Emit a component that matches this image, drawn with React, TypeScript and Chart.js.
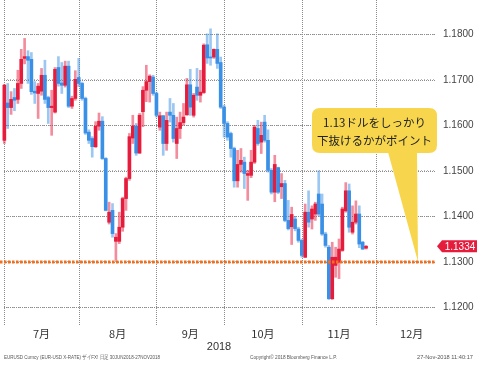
import React, { useEffect, useRef } from 'react';
import { Chart, registerables } from 'chart.js';

Chart.register(...registerables);

// Trading days (EUR/USD daily candles)
const dates = [
  '6/29',
  '7/2', '7/3', '7/4', '7/5', '7/6', '7/9', '7/10', '7/11', '7/12', '7/13', '7/16', '7/17', '7/18', '7/19', '7/20', '7/23', '7/24', '7/25', '7/26', '7/27', '7/30', '7/31',
  '8/1', '8/2', '8/3', '8/6', '8/7', '8/8', '8/9', '8/10', '8/13', '8/14', '8/15', '8/16', '8/17', '8/20', '8/21', '8/22', '8/23', '8/24', '8/27', '8/28', '8/29', '8/30', '8/31',
  '9/3', '9/4', '9/5', '9/6', '9/7', '9/10', '9/11', '9/12', '9/13', '9/14', '9/17', '9/18', '9/19', '9/20', '9/21', '9/24', '9/25', '9/26', '9/27', '9/28',
  '10/1', '10/2', '10/3', '10/4', '10/5', '10/8', '10/9', '10/10', '10/11', '10/12', '10/15', '10/16', '10/17', '10/18', '10/19', '10/22', '10/23', '10/24', '10/25', '10/26', '10/29', '10/30', '10/31',
  '11/1', '11/2', '11/5', '11/6', '11/7', '11/8', '11/9', '11/12', '11/13', '11/14', '11/15', '11/16', '11/19', '11/20', '11/21', '11/22', '11/23', '11/26', '11/27',
];

const openP = [
  1.1567,
  1.1649, 1.1639, 1.1661, 1.1657, 1.1692, 1.1747, 1.1751, 1.1745, 1.1675, 1.1670, 1.1675, 1.1710, 1.1661, 1.1639, 1.1629, 1.1727, 1.1693, 1.1688, 1.1730, 1.1642, 1.1659, 1.1705,
  1.1692, 1.1659, 1.1585, 1.1571, 1.1553, 1.1598, 1.1609, 1.1527, 1.1387, 1.1413, 1.1345, 1.1345, 1.1376, 1.1439, 1.1483, 1.1572, 1.1598, 1.1539, 1.1630, 1.1677, 1.1696, 1.1706, 1.1670,
  1.1596, 1.1621, 1.1560, 1.1629, 1.1622, 1.1560, 1.1593, 1.1606, 1.1623, 1.1689, 1.1622, 1.1684, 1.1666, 1.1672, 1.1777, 1.1750, 1.1750, 1.1767, 1.1738, 1.1640,
  1.1604, 1.1582, 1.1549, 1.1478, 1.1514, 1.1519, 1.1490, 1.1490, 1.1519, 1.1593, 1.1563, 1.1607, 1.1567, 1.1501, 1.1453, 1.1507, 1.1465, 1.1472, 1.1391, 1.1377, 1.1394, 1.1372, 1.1347,
  1.1310, 1.1409, 1.1394, 1.1405, 1.1449, 1.1427, 1.1361, 1.1332, 1.1219, 1.1292, 1.1299, 1.1325, 1.1412, 1.1456, 1.1365, 1.1387, 1.1405, 1.1343, 1.1330,
];
const highP = [
  1.1690,
  1.1692, 1.1674, 1.1681, 1.1721, 1.1767, 1.1791, 1.1764, 1.1760, 1.1696, 1.1692, 1.1725, 1.1743, 1.1664, 1.1677, 1.1727, 1.1751, 1.1738, 1.1741, 1.1741, 1.1664, 1.1720, 1.1747,
  1.1695, 1.1662, 1.1590, 1.1575, 1.1608, 1.1627, 1.1619, 1.1529, 1.1431, 1.1428, 1.1362, 1.1409, 1.1442, 1.1486, 1.1582, 1.1622, 1.1604, 1.1626, 1.1685, 1.1732, 1.1711, 1.1710, 1.1673,
  1.1629, 1.1622, 1.1629, 1.1659, 1.1648, 1.1618, 1.1629, 1.1648, 1.1703, 1.1723, 1.1670, 1.1725, 1.1721, 1.1779, 1.1801, 1.1812, 1.1768, 1.1801, 1.1750, 1.1644,
  1.1608, 1.1585, 1.1552, 1.1545, 1.1549, 1.1530, 1.1501, 1.1545, 1.1600, 1.1611, 1.1607, 1.1622, 1.1590, 1.1505, 1.1534, 1.1508, 1.1494, 1.1479, 1.1435, 1.1420, 1.1400, 1.1376, 1.1350,
  1.1427, 1.1456, 1.1423, 1.1431, 1.1500, 1.1449, 1.1365, 1.1336, 1.1343, 1.1332, 1.1350, 1.1420, 1.1474, 1.1471, 1.1423, 1.1434, 1.1423, 1.1345, 1.1336,
];
const lowP = [
  1.1560,
  1.1593, 1.1624, 1.1632, 1.1648, 1.1681, 1.1735, 1.1692, 1.1668, 1.1648, 1.1615, 1.1666, 1.1648, 1.1604, 1.1578, 1.1627, 1.1686, 1.1670, 1.1684, 1.1639, 1.1637, 1.1655, 1.1685,
  1.1655, 1.1580, 1.1560, 1.1530, 1.1551, 1.1589, 1.1525, 1.1412, 1.1383, 1.1354, 1.1303, 1.1340, 1.1367, 1.1413, 1.1479, 1.1560, 1.1534, 1.1538, 1.1597, 1.1652, 1.1651, 1.1666, 1.1618,
  1.1589, 1.1534, 1.1545, 1.1607, 1.1563, 1.1527, 1.1571, 1.1600, 1.1622, 1.1622, 1.1618, 1.1655, 1.1651, 1.1670, 1.1736, 1.1732, 1.1747, 1.1725, 1.1637, 1.1574,
  1.1567, 1.1530, 1.1464, 1.1464, 1.1497, 1.1461, 1.1435, 1.1485, 1.1516, 1.1556, 1.1538, 1.1563, 1.1497, 1.1449, 1.1432, 1.1450, 1.1439, 1.1388, 1.1370, 1.1338, 1.1368, 1.1343, 1.1310,
  1.1309, 1.1376, 1.1372, 1.1391, 1.1401, 1.1358, 1.1332, 1.1217, 1.1217, 1.1266, 1.1263, 1.1323, 1.1409, 1.1365, 1.1361, 1.1383, 1.1331, 1.1327, 1.1328,
];
const closeP = [
  1.1688,
  1.1639, 1.1657, 1.1655, 1.1692, 1.1745, 1.1751, 1.1743, 1.1674, 1.1671, 1.1686, 1.1710, 1.1657, 1.1639, 1.1642, 1.1723, 1.1692, 1.1688, 1.1730, 1.1642, 1.1659, 1.1701, 1.1692,
  1.1659, 1.1583, 1.1567, 1.1553, 1.1598, 1.1609, 1.1527, 1.1413, 1.1409, 1.1362, 1.1354, 1.1376, 1.1439, 1.1483, 1.1575, 1.1598, 1.1539, 1.1622, 1.1677, 1.1696, 1.1708, 1.1670, 1.1622,
  1.1621, 1.1560, 1.1611, 1.1622, 1.1571, 1.1593, 1.1606, 1.1618, 1.1689, 1.1640, 1.1666, 1.1666, 1.1673, 1.1776, 1.1748, 1.1748, 1.1767, 1.1736, 1.1640, 1.1604,
  1.1574, 1.1549, 1.1478, 1.1514, 1.1523, 1.1494, 1.1494, 1.1519, 1.1596, 1.1560, 1.1578, 1.1567, 1.1501, 1.1453, 1.1514, 1.1453, 1.1472, 1.1391, 1.1373, 1.1404, 1.1373, 1.1347, 1.1314,
  1.1409, 1.1387, 1.1416, 1.1427, 1.1405, 1.1361, 1.1336, 1.1219, 1.1310, 1.1310, 1.1328, 1.1416, 1.1456, 1.1376, 1.1387, 1.1405, 1.1339, 1.1328, 1.1334,
];

// Axis / annotation content
const monthGridIndex = [0, 22, 45, 65, 88, 110];
const monthLabelIndex = [11, 33.5, 55, 76.5, 99, 120.5];
const monthLabels = ['7月', '8月', '9月', '10月', '11月', '12月'];
const yTicks = [1.12, 1.13, 1.14, 1.15, 1.16, 1.17, 1.18];
const supportLevel = 1.13;
const calloutLines = ['1.13ドルをしっかり', '下抜けるかがポイント'];
const yearLabel = '2018';
const footerLeft = 'EURUSD Curncy (EUR-USD X-RATE) ザイFX! 日足 30JUN2018-27NOV2018';
const footerMid = 'Copyright© 2018 Bloomberg Finance L.P.';
const footerRight = '27-Nov-2018 11:40:17';

const UP = 'rgb(230, 28, 60)';
const UP_WICK = 'rgba(230, 28, 60, 0.5)';
const DOWN = 'rgb(58, 143, 230)';
const DOWN_WICK = 'rgba(58, 143, 230, 0.5)';
const GRID = '#8c8c8c';

const isUp = (k: number) => closeP[k] >= openP[k];

const gridPlugin = {
  id: 'dottedGrid',
  beforeDatasetsDraw(chart: any) {
    const { ctx, chartArea, scales } = chart;
    ctx.save();
    ctx.fillStyle = GRID;
    const left = Math.round(chartArea.left);
    const right = Math.round(chartArea.right);
    // dotted horizontal lines at the price ticks
    for (const v of yTicks) {
      const y = Math.round(scales.y.getPixelForValue(v));
      for (let x = left; x < right; x += 2) {
        ctx.fillRect(x, y, 1, 1);
      }
    }
    // dotted vertical lines at month boundaries
    for (const v of monthGridIndex) {
      const x = Math.round(scales.x.getPixelForValue(v));
      for (let y = Math.round(chartArea.top); y < chartArea.bottom; y += 2) {
        ctx.fillRect(x, y, 1, 1);
      }
    }
    ctx.restore();
  },
};

const overlayPlugin = {
  id: 'overlay',
  afterDatasetsDraw(chart: any) {
    const { ctx, chartArea, scales } = chart;
    const ys = scales.y;
    const xs = scales.x;
    ctx.save();

    // Callout box
    const tipY = ys.getPixelForValue(supportLevel);
    ctx.fillStyle = '#f7d64e';
    const bx = 312, by = 108, bw = 125, bh = 45, r = 8;
    ctx.beginPath();
    ctx.moveTo(bx + r, by);
    ctx.lineTo(bx + bw - r, by);
    ctx.quadraticCurveTo(bx + bw, by, bx + bw, by + r);
    ctx.lineTo(bx + bw, by + bh - r);
    ctx.quadraticCurveTo(bx + bw, by + bh, bx + bw - r, by + bh);
    ctx.lineTo(bx + r, by + bh);
    ctx.quadraticCurveTo(bx, by + bh, bx, by + bh - r);
    ctx.lineTo(bx, by + r);
    ctx.quadraticCurveTo(bx, by, bx + r, by);
    ctx.closePath();
    ctx.fill();
    ctx.beginPath();
    ctx.moveTo(388, by + bh - 1);
    ctx.lineTo(417, by + bh - 1);
    ctx.lineTo(418, tipY);
    ctx.closePath();
    ctx.fill();

    ctx.fillStyle = '#222';
    ctx.font = '11.5px "Noto Sans CJK JP", sans-serif';
    ctx.textAlign = 'center';
    ctx.textBaseline = 'middle';
    ctx.fillText(calloutLines[0], bx + bw / 2, 123);
    ctx.fillText(calloutLines[1], bx + bw / 2, 141);

    // Support line
    ctx.strokeStyle = '#f07020';
    ctx.lineWidth = 3;
    ctx.setLineDash([2.5, 1.5]);
    ctx.beginPath();
    ctx.moveTo(0, Math.round(tipY));
    ctx.lineTo(chartArea.right, Math.round(tipY));
    ctx.stroke();
    ctx.setLineDash([]);

    // Last price tag
    const last = closeP[closeP.length - 1];
    const py = ys.getPixelForValue(last);
    const tx = chartArea.right + 2;
    ctx.fillStyle = UP;
    ctx.beginPath();
    ctx.moveTo(tx, py);
    ctx.lineTo(tx + 5, py - 6);
    ctx.lineTo(477, py - 6);
    ctx.lineTo(477, py + 6);
    ctx.lineTo(tx + 5, py + 6);
    ctx.closePath();
    ctx.fill();
    ctx.fillStyle = '#fff';
    ctx.font = '10px "Liberation Sans", Arial, sans-serif';
    ctx.textAlign = 'center';
    ctx.fillText(last.toFixed(4), tx + 23, py + 0.5);

    // Year label
    ctx.fillStyle = '#333';
    ctx.font = '11px "Liberation Sans", Arial, sans-serif';
    ctx.fillText(yearLabel, xs.getPixelForValue(63.5), 346.5);

    // Footer
    ctx.fillStyle = '#555';
    ctx.font = '6px "Liberation Sans", Arial, sans-serif';
    ctx.textAlign = 'left';
    ctx.fillText(footerLeft, 4, 357, 156);
    ctx.fillText(footerMid, 250, 357, 87);
    ctx.fillText(footerRight, 417, 357, 56);
    ctx.restore();
  },
};

export default function App() {
  const ref = useRef<HTMLCanvasElement | null>(null);

  useEffect(() => {
    if (!ref.current) return;
    const wickData = dates.map((_, k) => ({ x: k, y: [lowP[k], highP[k]] }));
    const bodyData = dates.map((_, k) => ({ x: k, y: [openP[k], closeP[k]] }));
    const chart = new Chart(ref.current, {
      type: 'bar',
      data: {
        datasets: [
          {
            label: 'body',
            data: bodyData as any,
            backgroundColor: dates.map((_, k) => (isUp(k) ? UP : DOWN)),
            barThickness: 3,
            minBarLength: 1,
            grouped: false,
            clip: false as any,
            borderWidth: 0,
          },
          {
            label: 'wick',
            data: wickData as any,
            backgroundColor: dates.map((_, k) => (isUp(k) ? UP_WICK : DOWN_WICK)),
            barThickness: 2,
            grouped: false,
            clip: false as any,
            borderWidth: 0,
          },
        ],
      },
      options: {
        animation: false,
        responsive: false,
        devicePixelRatio: 1,
        layout: { padding: { left: 4, top: 0, right: 0, bottom: 0 } },
        plugins: { legend: { display: false }, tooltip: { enabled: false } },
        scales: {
          x: {
            type: 'linear',
            min: -0.1,
            max: 127.4,
            offset: false,
            afterBuildTicks: (s: any) => {
              s.ticks = monthLabelIndex.map((v) => ({ value: v }));
            },
            afterFit: (s: any) => {
              s.height = 41;
              s.paddingLeft = 0;
              s.paddingRight = 0;
            },
            grid: { display: false, drawTicks: false },
            border: { display: false },
            ticks: {
              autoSkip: false,
              maxRotation: 0,
              padding: 1,
              color: '#333',
              font: { family: '"Noto Sans CJK JP", sans-serif', size: 11 },
              callback: (v: any) => {
                const i = monthLabelIndex.indexOf(Number(v));
                return i >= 0 ? monthLabels[i] : '';
              },
            },
          },
          y: {
            type: 'linear',
            position: 'right',
            min: 1.11589,
            max: 1.18754,
            afterBuildTicks: (s: any) => {
              s.ticks = yTicks.map((v) => ({ value: v }));
            },
            afterFit: (s: any) => {
              s.width = 42;
              s.paddingTop = 0;
              s.paddingBottom = 0;
            },
            grid: { display: true, drawTicks: false, color: '#b4b4b4', lineWidth: 1 },
            border: { display: false, dash: [1, 2] },
            ticks: {
              padding: 8,
              color: '#444',
              font: { family: '"Liberation Sans", Arial, sans-serif', size: 10 },
              callback: (v: any) => Number(v).toFixed(4),
            },
          },
        },
      },
      plugins: [gridPlugin, overlayPlugin],
    } as any);
    return () => chart.destroy();
  }, []);

  return (
    <div style={{ position: 'fixed', left: 0, top: 0, width: 477, height: 367, background: '#fff' }}>
      <canvas ref={ref} width={477} height={367} style={{ width: 477, height: 367, display: 'block' }} />
    </div>
  );
}
